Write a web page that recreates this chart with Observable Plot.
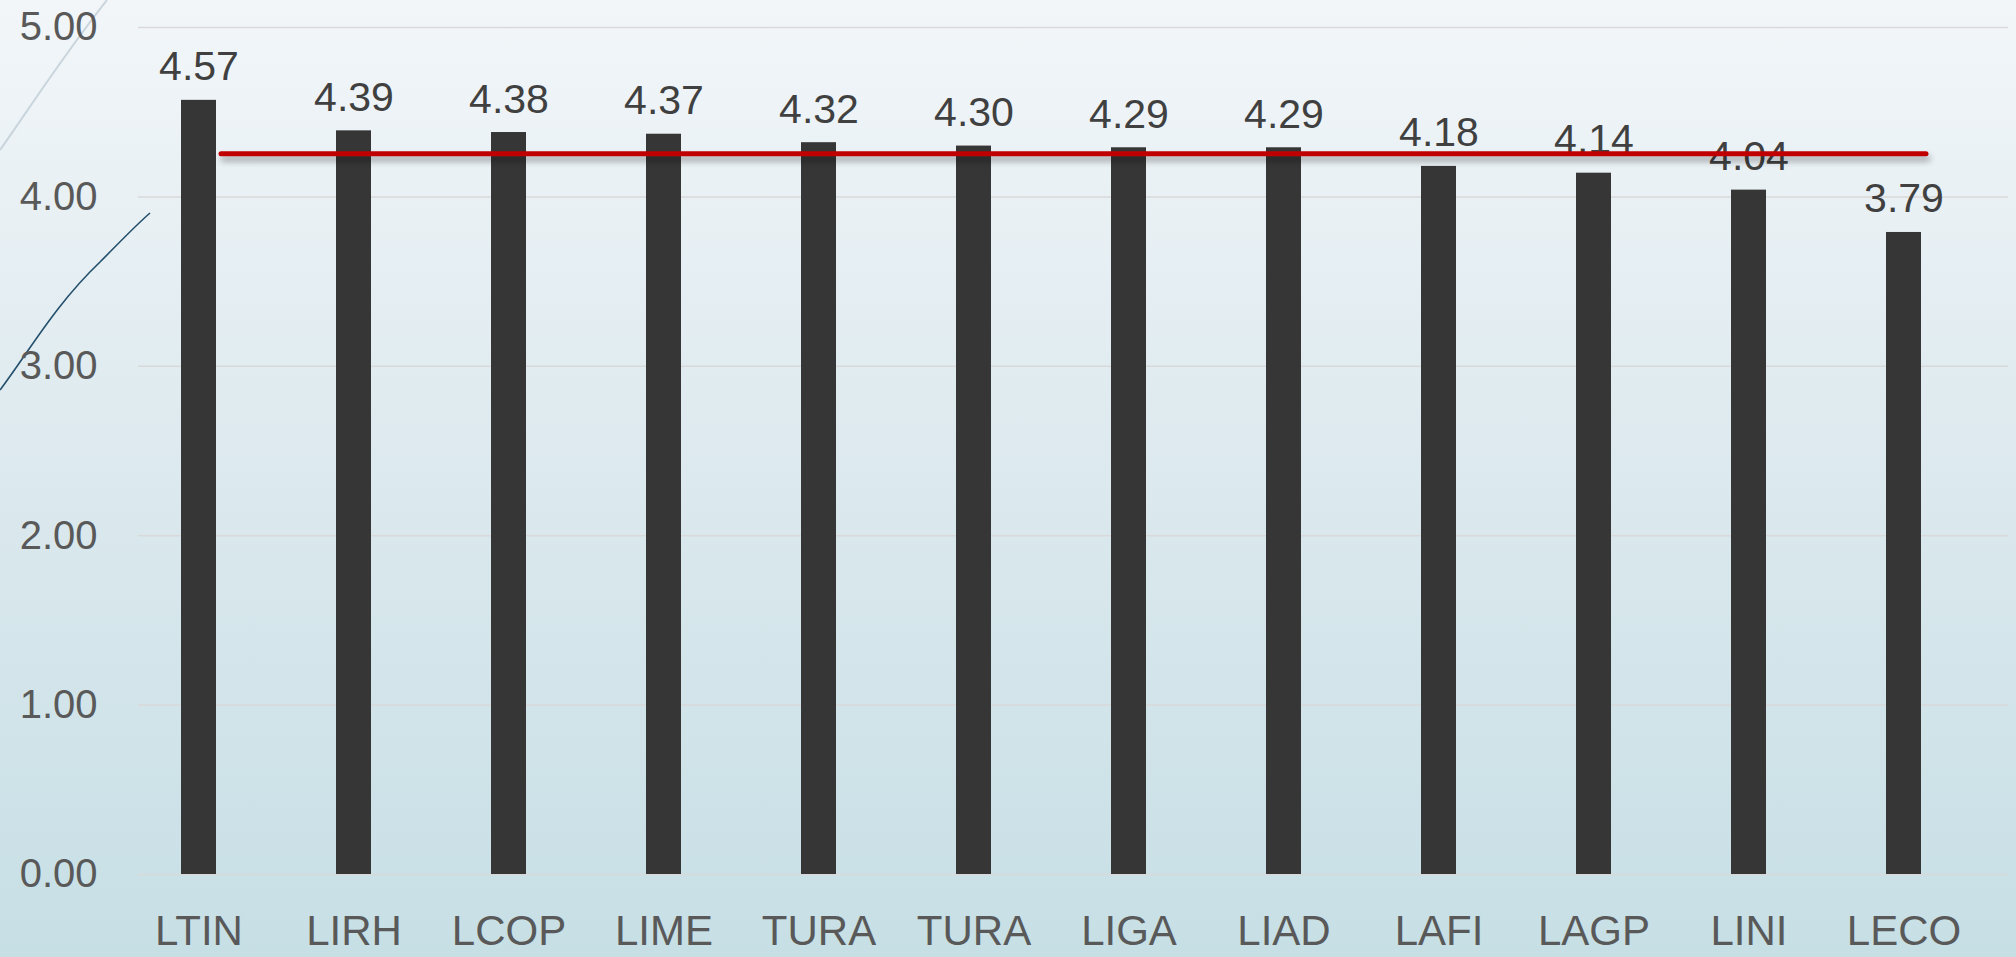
<!DOCTYPE html>
<html>
<head>
<meta charset="utf-8">
<script src="https://cdn.jsdelivr.net/npm/d3@7"></script>
<script src="https://cdn.jsdelivr.net/npm/@observablehq/plot@0.6"></script>
<style>
  html, body { margin: 0; padding: 0; }
  body {
    width: 2016px; height: 957px; overflow: hidden; position: relative;
    background: linear-gradient(to bottom, #f2f6f9 0%, #dce9ee 50%, #c6dfe5 100%);
    font-family: "Liberation Sans", Arial, sans-serif;
  }
  #deco { position: absolute; left: 0; top: 0; }
  #chart { position: absolute; left: 0; top: 0; }
</style>
</head>
<body>
<svg id="deco" width="2016" height="957">
  <path d="M0,150 C25,115 60,60 107,0" fill="none" stroke="#c9d5dc" stroke-width="2"/>
  <path d="M0,390 C30,350 55,305 100,262 C120,242 135,226 150,213" fill="none" stroke="#234f6c" stroke-width="1.6"/>
</svg>
<div id="chart"></div>
<script>
const categories = ["LTIN", "LIRH", "LCOP", "LIME", "TURA", "TURA", "LIGA", "LIAD", "LAFI", "LAGP", "LINI", "LECO"];
const values = [4.57, 4.39, 4.38, 4.37, 4.32, 4.30, 4.29, 4.29, 4.18, 4.14, 4.04, 3.79];
const yTicks = [0, 1, 2, 3, 4, 5];

const data = categories.map((c, i) => ({idx: i, label: c, value: values[i]}));
const average = d3.mean(values);
const avgData = data.map(d => ({idx: d.idx, value: average}));

const chart = Plot.plot({
  width: 2016,
  height: 957,
  marginTop: 27,
  marginBottom: 83,
  marginLeft: 138,
  marginRight: 8,
  style: {background: "transparent", fontFamily: "Liberation Sans, Arial, sans-serif"},
  x: {domain: d3.range(categories.length), range: [115.6, 1986], paddingInner: 0.7754, paddingOuter: 0.3877, label: null},
  y: {domain: [0, 5], label: null},
  marks: [
    Plot.ruleY(yTicks, {stroke: "#d9d9d9", strokeWidth: 1.5}),
    Plot.barY(data, {x: "idx", y: "value", fill: "#363636"}),
    Plot.text(data, {x: "idx", y: "value", text: d => d.value.toFixed(2), dy: -20, lineAnchor: "bottom", fontSize: 41, fill: "#404040"}),
    Plot.axisY({ticks: yTicks, tickFormat: d => d.toFixed(2), tickSize: 0, tickPadding: 41, fontSize: 40, fill: "#595959", label: null}),
    Plot.axisX({tickFormat: i => categories[i], tickSize: 0, tickPadding: 41, fontSize: 42, fill: "#595959", label: null}),
    Plot.lineY(avgData, {x: "idx", y: "value", dx: 22, stroke: "#c00000", strokeWidth: 5, strokeLinecap: "round", imageFilter: "drop-shadow(2px 5px 3px rgba(0,0,0,0.35))"})
  ]
});
document.getElementById("chart").appendChild(chart);
</script>
</body>
</html>
